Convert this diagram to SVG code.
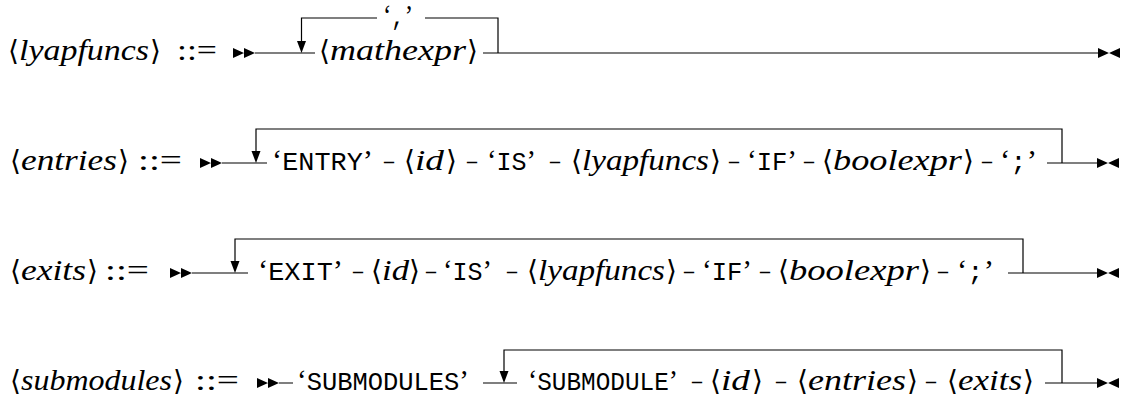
<svg xmlns="http://www.w3.org/2000/svg" width="1139" height="405" viewBox="0 0 1139 405">
<style>
.nt{font-family:"Liberation Serif",serif;font-style:italic;font-size:29px;fill:#000}
.br{font-family:"DejaVu Serif","DejaVu Sans",serif;font-size:28px;fill:#000}
.rm{font-family:"Liberation Serif",serif;font-size:29px;fill:#000}
.tt{font-family:"Liberation Mono",monospace;font-size:25.5px}
.ln{fill:none;stroke:#000;stroke-width:1.2}
.mk{fill:#000}
</style>
<defs>
<path id="st" d="M0,-5 L11,0 L0,5 Z M11,-5 L22,0 L11,5 Z"/>
<path id="en" d="M0,-5 L11,0 L0,5 Z M22,-5 L11,0 L22,5 Z"/>
<path id="dn" d="M-4.5,-12 L4.5,-12 L0,0 Z"/>
</defs>
<rect width="1139" height="405" fill="#fff"/>

<g id="connectors">
<use href="#st" class="mk" x="233" y="53"/>
<path class="ln" d="M255,53 H315 M483,53 H1098 M498,53 V18 H425 M377,18 H301.5 V44"/>
<use href="#dn" class="mk" x="301.5" y="53"/>
<use href="#en" class="mk" x="1098" y="53"/>
<use href="#st" class="mk" x="200" y="163"/>
<path class="ln" d="M222,163 H267 M1047,163 H1097 M256,154 V129 H1062 V163"/>
<use href="#dn" class="mk" x="256" y="163"/>
<use href="#en" class="mk" x="1097" y="163"/>
<use href="#st" class="mk" x="170" y="273"/>
<path class="ln" d="M192,273 H248 M1008,273 H1097 M235,264 V239 H1023 V273"/>
<use href="#dn" class="mk" x="235" y="273"/>
<use href="#en" class="mk" x="1097" y="273"/>
<use href="#st" class="mk" x="257" y="383"/>
<path class="ln" d="M279,383 H293 M483,383 H517 M1045,383 H1097 M504,374 V350 H1062 V383"/>
<use href="#dn" class="mk" x="504" y="383"/>
<use href="#en" class="mk" x="1097" y="383"/>
</g>

<g id="rule-lyapfuncs">
<g id="lhs-lyapfuncs"><text class="br" x="8" y="60">⟨</text><text class="nt" x="19" y="60" textLength="130" lengthAdjust="spacingAndGlyphs">lyapfuncs</text><text class="br" x="150" y="60">⟩</text></g>
<text class="rm" x="177" y="60" textLength="40" lengthAdjust="spacingAndGlyphs">::=</text>
<text id="n-comma" class="rm" x="383" y="25" textLength="30" lengthAdjust="spacingAndGlyphs">‘<tspan class="tt">,</tspan>’</text>
<g id="n-mathexpr"><text class="br" x="319" y="60">⟨</text><text class="nt" x="330" y="60" textLength="136" lengthAdjust="spacingAndGlyphs">mathexpr</text><text class="br" x="467" y="60">⟩</text></g>
</g>

<g id="rule-entries">
<g id="lhs-entries"><text class="br" x="10" y="170">⟨</text><text class="nt" x="21" y="170" textLength="96" lengthAdjust="spacingAndGlyphs">entries</text><text class="br" x="118" y="170">⟩</text></g>
<text class="rm" x="138" y="170" textLength="44" lengthAdjust="spacingAndGlyphs">::=</text>
<text id="e-entry" class="rm" x="272" y="170" textLength="101" lengthAdjust="spacingAndGlyphs">‘<tspan class="tt">ENTRY</tspan>’</text>
<text class="rm" x="384" y="170" textLength="10" lengthAdjust="spacingAndGlyphs">–</text>
<g id="e-id"><text class="br" x="404" y="170">⟨</text><text class="nt" x="415" y="170" textLength="29" lengthAdjust="spacingAndGlyphs">id</text><text class="br" x="446" y="170">⟩</text></g>
<text class="rm" x="467" y="170" textLength="10" lengthAdjust="spacingAndGlyphs">–</text>
<text id="e-is" class="rm" x="487" y="170" textLength="49" lengthAdjust="spacingAndGlyphs">‘<tspan class="tt">IS</tspan>’</text>
<text class="rm" x="550" y="170" textLength="10" lengthAdjust="spacingAndGlyphs">–</text>
<g id="e-lyap"><text class="br" x="571" y="170">⟨</text><text class="nt" x="582" y="170" textLength="127" lengthAdjust="spacingAndGlyphs">lyapfuncs</text><text class="br" x="710" y="170">⟩</text></g>
<text class="rm" x="729" y="170" textLength="10" lengthAdjust="spacingAndGlyphs">–</text>
<text id="e-if" class="rm" x="747" y="170" textLength="50" lengthAdjust="spacingAndGlyphs">‘<tspan class="tt">IF</tspan>’</text>
<text class="rm" x="804" y="170" textLength="10" lengthAdjust="spacingAndGlyphs">–</text>
<g id="e-bool"><text class="br" x="822" y="170">⟨</text><text class="nt" x="833" y="170" textLength="129" lengthAdjust="spacingAndGlyphs">boolexpr</text><text class="br" x="963" y="170">⟩</text></g>
<text class="rm" x="982" y="170" textLength="10" lengthAdjust="spacingAndGlyphs">–</text>
<text id="e-semi" class="rm" x="1000" y="170" textLength="37" lengthAdjust="spacingAndGlyphs">‘<tspan class="tt">;</tspan>’</text>
</g>

<g id="rule-exits">
<g id="lhs-exits"><text class="br" x="10" y="280">⟨</text><text class="nt" x="21" y="280" textLength="65" lengthAdjust="spacingAndGlyphs">exits</text><text class="br" x="87" y="280">⟩</text></g>
<text class="rm" x="105" y="280" textLength="44" lengthAdjust="spacingAndGlyphs">::=</text>
<text id="x-exit" class="rm" x="258" y="280" textLength="85" lengthAdjust="spacingAndGlyphs">‘<tspan class="tt">EXIT</tspan>’</text>
<text class="rm" x="353" y="280" textLength="10" lengthAdjust="spacingAndGlyphs">–</text>
<g id="x-id"><text class="br" x="371" y="280">⟨</text><text class="nt" x="382" y="280" textLength="27" lengthAdjust="spacingAndGlyphs">id</text><text class="br" x="409" y="280">⟩</text></g>
<text class="rm" x="426" y="280" textLength="10" lengthAdjust="spacingAndGlyphs">–</text>
<text id="x-is" class="rm" x="443" y="280" textLength="49" lengthAdjust="spacingAndGlyphs">‘<tspan class="tt">IS</tspan>’</text>
<text class="rm" x="507" y="280" textLength="10" lengthAdjust="spacingAndGlyphs">–</text>
<g id="x-lyap"><text class="br" x="527" y="280">⟨</text><text class="nt" x="538" y="280" textLength="127" lengthAdjust="spacingAndGlyphs">lyapfuncs</text><text class="br" x="666" y="280">⟩</text></g>
<text class="rm" x="684" y="280" textLength="10" lengthAdjust="spacingAndGlyphs">–</text>
<text id="x-if" class="rm" x="702" y="280" textLength="50" lengthAdjust="spacingAndGlyphs">‘<tspan class="tt">IF</tspan>’</text>
<text class="rm" x="760" y="280" textLength="10" lengthAdjust="spacingAndGlyphs">–</text>
<g id="x-bool"><text class="br" x="778" y="280">⟨</text><text class="nt" x="789" y="280" textLength="130" lengthAdjust="spacingAndGlyphs">boolexpr</text><text class="br" x="920" y="280">⟩</text></g>
<text class="rm" x="938" y="280" textLength="10" lengthAdjust="spacingAndGlyphs">–</text>
<text id="x-semi" class="rm" x="957" y="280" textLength="37" lengthAdjust="spacingAndGlyphs">‘<tspan class="tt">;</tspan>’</text>
</g>

<g id="rule-submodules">
<g id="lhs-submodules"><text class="br" x="10" y="390">⟨</text><text class="nt" x="21" y="390" textLength="151" lengthAdjust="spacingAndGlyphs">submodules</text><text class="br" x="173" y="390">⟩</text></g>
<text class="rm" x="195" y="390" textLength="44" lengthAdjust="spacingAndGlyphs">::=</text>
<text id="s-submodules" class="rm" x="297" y="390" textLength="172" lengthAdjust="spacingAndGlyphs">‘<tspan class="tt">SUBMODULES</tspan>’</text>
<text id="s-submodule" class="rm" x="528" y="390" textLength="150" lengthAdjust="spacingAndGlyphs">‘<tspan class="tt">SUBMODULE</tspan>’</text>
<text class="rm" x="692" y="390" textLength="10" lengthAdjust="spacingAndGlyphs">–</text>
<g id="s-id"><text class="br" x="710" y="390">⟨</text><text class="nt" x="721" y="390" textLength="29" lengthAdjust="spacingAndGlyphs">id</text><text class="br" x="752" y="390">⟩</text></g>
<text class="rm" x="776" y="390" textLength="10" lengthAdjust="spacingAndGlyphs">–</text>
<g id="s-entries"><text class="br" x="797" y="390">⟨</text><text class="nt" x="808" y="390" textLength="98" lengthAdjust="spacingAndGlyphs">entries</text><text class="br" x="907" y="390">⟩</text></g>
<text class="rm" x="926" y="390" textLength="10" lengthAdjust="spacingAndGlyphs">–</text>
<g id="s-exits"><text class="br" x="947" y="390">⟨</text><text class="nt" x="958" y="390" textLength="64" lengthAdjust="spacingAndGlyphs">exits</text><text class="br" x="1023" y="390">⟩</text></g>
</g>
</svg>
